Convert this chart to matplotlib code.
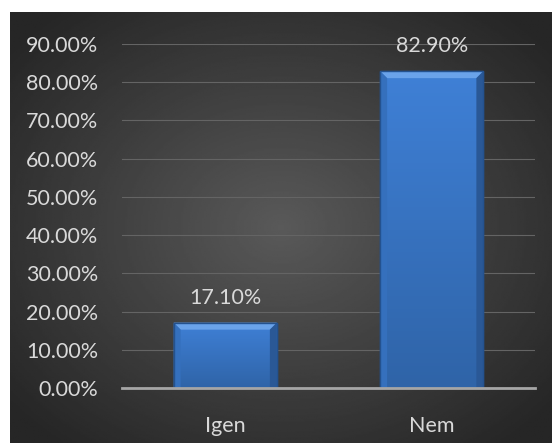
import numpy as np
import matplotlib
matplotlib.use("Agg")
import matplotlib.pyplot as plt
from matplotlib.ticker import FuncFormatter
from matplotlib.patches import Polygon

categories = ["Igen", "Nem"]
values = [17.10, 82.90]
y_ticks = [0, 10, 20, 30, 40, 50, 60, 70, 80, 90]

plt.rcParams['font.family'] = ['Lato', 'DejaVu Sans']
txt = '#d9d9d9'
fs = 15.5

fig = plt.figure(figsize=(5.52, 4.43), dpi=100)
fig.patch.set_facecolor('white')

# dark radial background
bg = fig.add_axes([10 / 552, 0, 542 / 552, 431 / 443])
yy, xx = np.mgrid[-1:1:300j, -1:1:300j]
r = np.sqrt(xx ** 2 + yy ** 2)
shade = 0.35 - 0.2 * np.clip(r / 1.3, 0, 1)
bg.imshow(shade, cmap='gray', vmin=0, vmax=1, aspect='auto', extent=[0, 1, 0, 1])
bg.axis('off')

ax = fig.add_axes([122 / 552, 55 / 443, 413 / 552, 344 / 443])
ax.patch.set_alpha(0)
x = np.arange(len(categories))
bars = ax.bar(x, values, width=0.5, color='#3a78cc', edgecolor='#24528f', linewidth=1, zorder=3)

ax.set_xlim(-0.5, 1.5)
ax.set_ylim(0, 90)

# vertical gradient + bevel on each bar
grad = np.linspace(0, 1, 100).reshape(-1, 1)
dx, dy = 7 / 206.5, 7 / 3.82
for b, v in zip(bars, values):
    x0, x1 = b.get_x(), b.get_x() + b.get_width()
    im = ax.imshow(grad, cmap=matplotlib.colors.LinearSegmentedColormap.from_list('b', ['#2f64a8', '#3f80d6']),
                   extent=[x0, x1, 0, v], aspect='auto', origin='lower', zorder=3.1)
    im.set_clip_path(b)
    ax.add_patch(Polygon([[x0, v], [x1, v], [x1 - dx, v - dy], [x0 + dx, v - dy]],
                         closed=True, facecolor='#6aa3ea', edgecolor='none', zorder=3.2))
    ax.add_patch(Polygon([[x0, v], [x0 + dx, v - dy], [x0 + dx, 0], [x0, 0]],
                         closed=True, facecolor='#3570bd', edgecolor='none', zorder=3.2))
    ax.add_patch(Polygon([[x1, v], [x1 - dx, v - dy], [x1 - dx, 0], [x1, 0]],
                         closed=True, facecolor='#2a5896', edgecolor='none', zorder=3.2))
    ax.add_patch(Polygon([[x0, v], [x1, v], [x1, 0], [x0, 0]], closed=True,
                         facecolor='none', edgecolor='#24528f', linewidth=1, zorder=3.3))
    ax.annotate(f"{v:.2f}%", ((x0 + x1) / 2, v), xytext=(0, 18),
                textcoords='offset points', ha='center', va='center', color=txt, fontsize=fs)

ax.set_yticks(y_ticks)
ax.yaxis.set_major_formatter(FuncFormatter(lambda v, p: f"{v:.2f}%"))
ax.set_xticks(x)
ax.set_xticklabels(categories)
ax.tick_params(axis='both', length=0, colors=txt, labelsize=fs)
ax.tick_params(axis='y', pad=17)
ax.tick_params(axis='x', pad=20)
ax.grid(axis='y', color='#646464', linewidth=0.8, zorder=0)
for s in ['top', 'right', 'left']:
    ax.spines[s].set_visible(False)
ax.spines['bottom'].set_color('#a6a6a6')
ax.spines['bottom'].set_linewidth(2)
ax.spines['bottom'].set_zorder(4)

fig.savefig('out.png', dpi=100)
